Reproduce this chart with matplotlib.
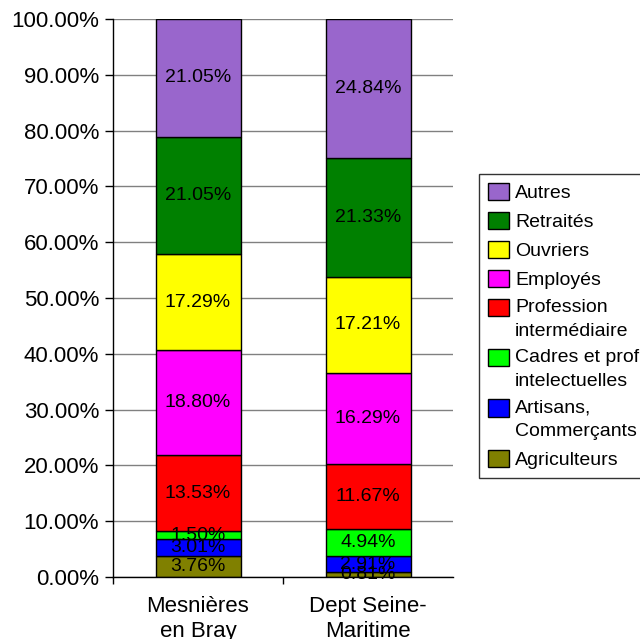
import numpy as np
import matplotlib
matplotlib.use("Agg")
import matplotlib.pyplot as plt
from matplotlib.patches import Patch, Rectangle
from matplotlib.legend_handler import HandlerPatch
from matplotlib.ticker import FixedLocator, PercentFormatter

plt.rcParams['font.family'] = ['Liberation Sans', 'DejaVu Sans']

# catégories socio-professionnelles, du bas vers le haut de la pile
categories = ['Agriculteurs', 'Artisans,\nCommerçants', 'Cadres et prof\nintelectuelles',
              'Profession\nintermédiaire', 'Employés', 'Ouvriers', 'Retraités', 'Autres']
colors = ['#808000', '#0000FF', '#00FF00', '#FF0000', '#FF00FF', '#FFFF00', '#008000', '#9966CC']

territoires = ['Mesnières\nen Bray', 'Dept Seine-\nMaritime']
mesnieres = [3.76, 3.01, 1.50, 13.53, 18.80, 17.29, 21.05, 21.05]
seine_maritime = [0.81, 2.91, 4.94, 11.67, 16.29, 17.21, 21.33, 24.84]

data = np.array([mesnieres, seine_maritime]).T  # (categorie, territoire)


class TopAlignedPatch(HandlerPatch):
    """carré de légende calé sur la première ligne du libellé"""

    def __init__(self, shift=0.0, **kw):
        super().__init__(**kw)
        self.shift = shift

    def create_artists(self, legend, orig_handle, xdescent, ydescent,
                       width, height, fontsize, trans):
        p = Rectangle((-xdescent, -ydescent + self.shift), width, height)
        self.update_prop(p, orig_handle, legend)
        p.set_transform(trans)
        return [p]


fig = plt.figure(figsize=(6.4, 6.39), dpi=100)
ax = fig.add_axes([113 / 640, 1 - 577 / 639, 340 / 640, 558 / 639])

x = np.arange(len(territoires))
bottom = np.zeros(len(territoires))
for i, cat in enumerate(categories):
    vals = data[i]
    ax.bar(x, vals, width=0.5, bottom=bottom, color=colors[i],
           edgecolor='black', linewidth=1.0, zorder=3)
    for xi, v, b in zip(x, vals, bottom):
        ax.text(xi, b + v / 2, f'{v:.2f}%', ha='center', va='center',
                fontsize=14, color='black', zorder=4)
    bottom += vals

ax.set_xlim(-0.5, 1.5)
ax.set_ylim(0, 100)
ax.yaxis.set_major_locator(FixedLocator(np.arange(0, 101, 10)))
ax.yaxis.set_major_formatter(PercentFormatter(decimals=2))
ax.set_xticks(x)
ax.set_xticklabels(territoires)
ax.set_xticks([-0.5, 0.5], minor=True)

ax.tick_params(axis='y', which='major', direction='out', length=6, width=1,
               labelsize=16, pad=4)
ax.tick_params(axis='x', which='major', length=0, labelsize=16, pad=14)
ax.tick_params(axis='x', which='minor', direction='out', length=5, width=1)

ax.grid(axis='y', color='#808080', linewidth=1.0, zorder=0)
ax.set_axisbelow(True)
for side in ['top', 'right']:
    ax.spines[side].set_visible(False)
for side in ['left', 'bottom']:
    ax.spines[side].set_color('black')
    ax.spines[side].set_linewidth(1.0)
    ax.spines[side].set_zorder(5)

# légende : de "Autres" (haut) à "Agriculteurs" (bas)
leg_handles = []
leg_map = {}
for cat, col in zip(categories[::-1], colors[::-1]):
    h = Patch(facecolor=col, edgecolor='black', linewidth=1.0)
    leg_handles.append(h)
    leg_map[h] = TopAlignedPatch(shift=8.4 if '\n' in cat else 0.0)

leg = fig.legend(leg_handles, categories[::-1], handler_map=leg_map,
                 loc='upper left', bbox_to_anchor=(479 / 640, 1 - 174 / 639),
                 fontsize=14, frameon=True, fancybox=False, shadow=False,
                 borderaxespad=0, borderpad=0.45, handlelength=1.1,
                 handleheight=1.0, handletextpad=0.3, labelspacing=0.5)
for t in leg.get_texts():
    t.set_linespacing(1.5)
leg.get_frame().set_edgecolor('black')
leg.get_frame().set_linewidth(1.0)

fig.savefig('out.png', dpi=100)
